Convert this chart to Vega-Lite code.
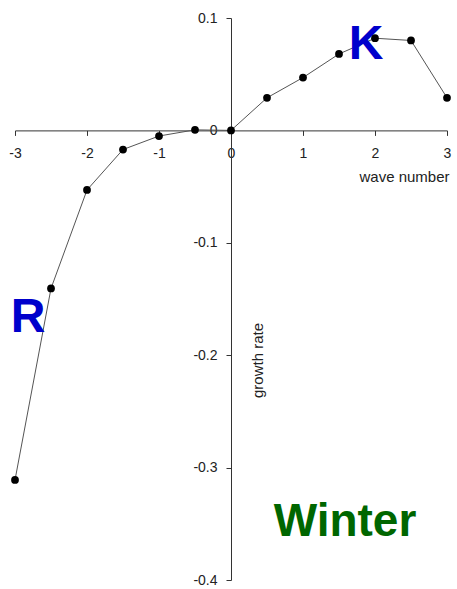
{
  "$schema": "https://vega.github.io/schema/vega-lite/v6.json",
  "width": 432,
  "height": 562,
  "autosize": "none",
  "padding": {"left": 15, "top": 18, "right": 10, "bottom": 9},
  "background": "white",
  "config": {
    "view": {"stroke": null},
    "font": "Liberation Sans",
    "locale": {"number": {"decimal": ".", "thousands": ",", "grouping": [3], "currency": ["$", ""], "minus": "-"}}
  },
  "datasets": {
    "curve": [
      {"x": -3, "y": -0.311},
      {"x": -2.5, "y": -0.1406},
      {"x": -2, "y": -0.053},
      {"x": -1.5, "y": -0.017},
      {"x": -1, "y": -0.005},
      {"x": -0.5, "y": 0.0005},
      {"x": 0, "y": 0},
      {"x": 0.5, "y": 0.029},
      {"x": 1, "y": 0.047},
      {"x": 1.5, "y": 0.068},
      {"x": 2, "y": 0.082},
      {"x": 2.5, "y": 0.080},
      {"x": 3, "y": 0.029}
    ],
    "labels": [
      {"label": "K", "x": 1.875, "y": 0.0635, "group": "blue"},
      {"label": "R", "x": -2.82, "y": -0.179, "group": "blue"},
      {"label": "Winter", "x": 1.583, "y": -0.361, "group": "green"}
    ]
  },
  "encoding": {
    "x": {
      "field": "x",
      "type": "quantitative",
      "scale": {"domain": [-3, 3], "nice": false, "zero": false},
      "axis": {
        "orient": "bottom",
        "offset": -449.6,
        "values": [-3, -2, -1, 0, 1, 2, 3],
        "format": "d",
        "grid": false,
        "tickSize": 5,
        "labelPadding": 11,
        "labelFontSize": 14,
        "labelColor": "#222222",
        "labelFlush": false,
        "labelOverlap": false,
        "domainColor": "#333333",
        "tickColor": "#333333",
        "title": "wave number",
        "titleFontSize": 15,
        "titleFontWeight": "normal",
        "titleColor": "#222222",
        "titleX": 434,
        "titleY": 51,
        "titleAlign": "right",
        "titleBaseline": "alphabetic"
      }
    },
    "y": {
      "field": "y",
      "type": "quantitative",
      "scale": {"domain": [-0.4, 0.1], "nice": false, "zero": false},
      "axis": {
        "orient": "left",
        "offset": -216,
        "values": [-0.4, -0.3, -0.2, -0.1, 0, 0.1],
        "format": "~g",
        "grid": false,
        "tickSize": 5,
        "labelPadding": 9,
        "labelFontSize": 14,
        "labelColor": "#222222",
        "labelFlush": false,
        "labelOverlap": false,
        "domainColor": "#333333",
        "tickColor": "#333333",
        "title": "growth rate",
        "titleFontSize": 15,
        "titleFontWeight": "normal",
        "titleColor": "#222222",
        "titleAngle": 270,
        "titleX": 26,
        "titleY": 342,
        "titleAlign": "center",
        "titleBaseline": "middle"
      }
    }
  },
  "layer": [
    {
      "data": {"name": "curve"},
      "mark": {"type": "line", "color": "#555555", "strokeWidth": 1}
    },
    {
      "data": {"name": "curve"},
      "mark": {"type": "point", "filled": true, "color": "black", "size": 60, "opacity": 1}
    },
    {
      "data": {"name": "labels"},
      "transform": [{"filter": "datum.group === 'blue'"}],
      "mark": {"type": "text", "font": "Liberation Sans", "fontWeight": "bold", "fontSize": 48, "align": "center", "baseline": "alphabetic", "color": "#0000CC"},
      "encoding": {"text": {"field": "label"}}
    },
    {
      "data": {"name": "labels"},
      "transform": [{"filter": "datum.group === 'green'"}],
      "mark": {"type": "text", "font": "Liberation Sans", "fontWeight": "bold", "fontSize": 46, "align": "center", "baseline": "alphabetic", "color": "#006600"},
      "encoding": {"text": {"field": "label"}}
    }
  ]
}
